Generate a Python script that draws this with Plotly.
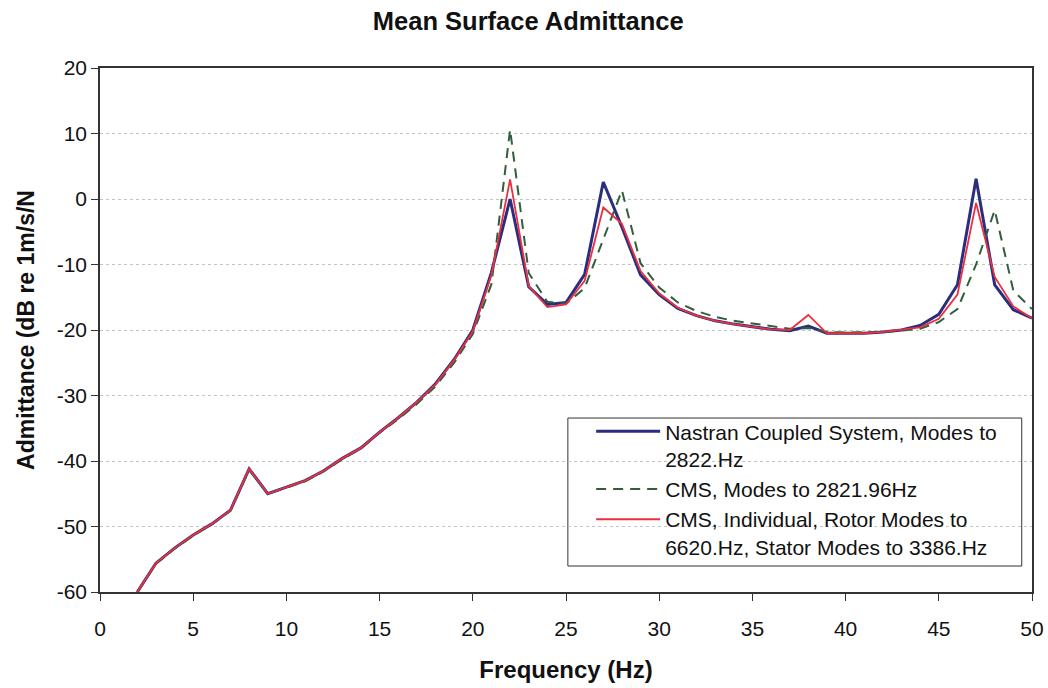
import plotly.graph_objects as go

freq = list(range(2, 51))

nastran = [-60.0, -55.6, -53.3, -51.3, -49.6, -47.5, -41.2, -45.0, -44.0, -43.0,
           -41.5, -39.6, -38.0, -35.6, -33.4, -31.0, -28.2, -24.5, -20.0, -11.2,
           0.0, -13.4, -16.1, -15.8, -11.5, 2.6, -4.3, -11.6, -14.6, -16.7,
           -17.8, -18.6, -19.1, -19.5, -19.9, -20.1, -19.4, -20.5, -20.5, -20.5,
           -20.3, -20.0, -19.3, -17.6, -13.1, 3.1, -13.1, -16.9, -18.2]

cms = [-60.0, -55.7, -53.4, -51.4, -49.7, -47.6, -41.4, -45.0, -44.1, -43.1,
       -41.6, -39.7, -38.1, -35.7, -33.6, -31.3, -28.6, -25.0, -20.6, -13.0,
       10.6, -11.3, -15.7, -16.0, -13.6, -6.0, 1.3, -9.8, -13.5, -15.8,
       -17.1, -18.0, -18.6, -19.0, -19.4, -19.8, -19.7, -20.3, -20.4, -20.4,
       -20.3, -20.1, -19.8, -18.8, -16.8, -10.0, -1.7, -14.0, -16.8]

cms_ind = [-60.0, -55.6, -53.3, -51.3, -49.6, -47.5, -41.2, -45.0, -44.0, -43.0,
           -41.5, -39.6, -38.0, -35.6, -33.4, -31.0, -28.3, -24.6, -20.2, -11.6,
           3.0, -13.3, -16.5, -16.1, -12.5, -1.3, -3.8, -11.0, -14.4, -16.6,
           -17.8, -18.6, -19.1, -19.5, -19.9, -20.0, -17.7, -20.5, -20.5, -20.5,
           -20.3, -20.0, -19.6, -18.3, -14.6, -0.6, -11.9, -16.4, -18.2]

names = ["Nastran Coupled System, Modes to<br>2822.Hz",
         "CMS, Modes to 2821.96Hz",
         "CMS, Individual, Rotor Modes to<br>6620.Hz, Stator Modes to 3386.Hz"]

x_ticks = [0, 5, 10, 15, 20, 25, 30, 35, 40, 45, 50]
y_ticks = [20, 10, 0, -10, -20, -30, -40, -50, -60]

FONT = "Liberation Sans, Arial, Helvetica, sans-serif"

fig = go.Figure()
fig.add_trace(go.Scatter(x=freq, y=nastran, mode="lines", name=names[0],
                         line=dict(color="#2b2e7e", width=3)))
fig.add_trace(go.Scatter(x=freq, y=cms, mode="lines", name=names[1],
                         line=dict(color="#2f5f3c", width=2, dash="10px,7px")))
fig.add_trace(go.Scatter(x=freq, y=cms_ind, mode="lines", name=names[2],
                         line=dict(color="#ea3040", width=1.8)))

fig.update_layout(
    width=1048, height=688,
    margin=dict(l=100, r=16, t=68, b=96, autoexpand=False),
    paper_bgcolor="white", plot_bgcolor="white",
    font=dict(family=FONT, color="#111111"),
    title=dict(text="<b>Mean Surface Admittance</b>", x=0.504, xanchor="center",
               y=0.97, yanchor="middle", font=dict(size=25.5, family=FONT)),
    showlegend=True,
    legend=dict(x=0.527, y=0.345, xanchor="left", yanchor="top",
                bgcolor="rgba(0,0,0,0)", borderwidth=0,
                font=dict(size=21, family=FONT), valign="top",
                itemwidth=64, traceorder="normal"),
    shapes=[dict(type="rect", xref="paper", yref="paper",
                 x0=0.502, x1=0.989, y0=0.0496, y1=0.332,
                 line=dict(color="#333333", width=1), fillcolor="white", layer="below")],
)
fig.update_xaxes(range=[0, 50], tickvals=x_ticks, ticktext=[str(v) for v in x_ticks],
                 showline=True, linecolor="#333333", linewidth=1.5, mirror=True,
                 ticks="outside", ticklen=7, tickcolor="#333333", showgrid=False,
                 zeroline=False, tickfont=dict(size=21), ticklabelstandoff=10,
                 automargin=False,
                 title=dict(text="<b>Frequency (Hz)</b>", font=dict(size=24), standoff=22))
fig.update_yaxes(range=[-60, 20], tickvals=y_ticks, ticktext=[str(v) for v in y_ticks],
                 showline=True, linecolor="#333333", linewidth=1.5, mirror=True,
                 ticks="outside", ticklen=7, tickcolor="#333333",
                 showgrid=True, gridcolor="#c4c4c4", griddash="dot", gridwidth=1,
                 zeroline=False, tickfont=dict(size=21), automargin=False,
                 title=dict(text="<b>Admittance (dB re 1m/s/N</b>", font=dict(size=23), standoff=16))

fig.write_html("out.html")
